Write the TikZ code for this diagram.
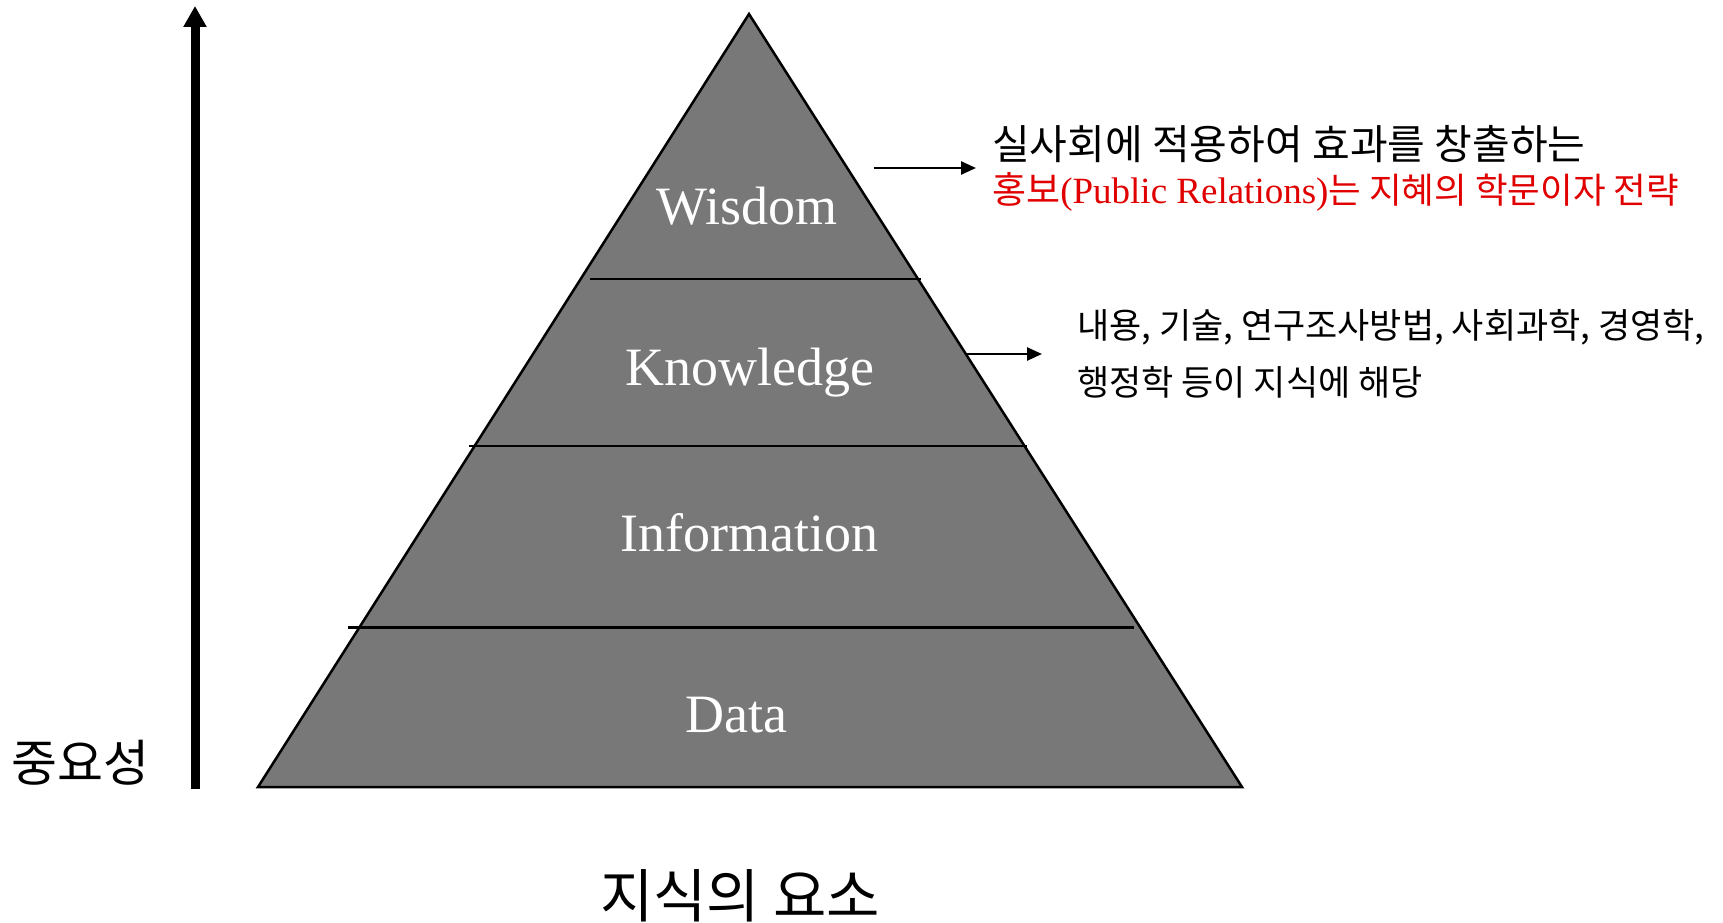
\documentclass[tikz,border=0pt]{standalone}
\usepackage{fontspec}
\setmainfont{Liberation Serif}
\newfontfamily\kr{Noto Sans CJK KR}
\usetikzlibrary{arrows.meta}
\definecolor{pyrgray}{HTML}{787878}
\definecolor{notered}{HTML}{E00000}
\begin{document}
\begin{tikzpicture}[x=1pt,y=-1pt,
  pyr/.style={fill=pyrgray, draw=black, line width=2.5pt, line join=miter},
  divider/.style={draw=black, line width=2.5pt},
  lbl/.style={text=white, font=\fontsize{54}{60}\selectfont, inner sep=0pt, anchor=base},
  note/.style={inner sep=0pt, anchor=base west},
  ptr/.style={line width=2.5pt, -{Triangle[length=15pt,width=13pt]}},
  bigptr/.style={line width=9pt, -{Triangle[length=21pt,width=22pt]}},
]
\useasboundingbox (0,0) rectangle (1723,923);
% pyramid
\coordinate (apex) at (749,14);
\coordinate (bl) at (258,787);
\coordinate (br) at (1242,787);
\path[pyr] (apex) -- (br) -- (bl) -- cycle;
% dividers
\coordinate (d1l) at (590,279);  \coordinate (d1r) at (921,279);
\coordinate (d2l) at (469,446);  \coordinate (d2r) at (1027,446);
\coordinate (d3l) at (348,627.5); \coordinate (d3r) at (1134,627.5);
\draw[divider] (d1l) -- (d1r);
\draw[divider] (d2l) -- (d2r);
\draw[divider] (d3l) -- (d3r);
% layer labels
\node[lbl] (wisdom) at (747,224) {Wisdom};
\node[lbl] (knowledge) at (749.5,385) {Knowledge};
\node[lbl] (information) at (749.5,551.5) {Information};
\node[lbl] (data) at (736,732) {Data};
% importance arrow
\coordinate (imp0) at (195,789);
\coordinate (imp1) at (195,6);
\draw[bigptr] (imp0) -- (imp1);
\node[note, font=\kr\fontsize{50}{56}\selectfont] (importance) at (11,781) {중요성};
% wisdom note
\node[note, font=\kr\fontsize{41}{46}\selectfont] (wnote1) at (992,159) {실사회에 적용하여 효과를 창출하는};
\node[note, text=notered, font=\fontsize{37}{42}\selectfont] (wnote2) at (992,203) {{\kr 홍보}(Public Relations){\kr\fontsize{35.5}{42}\selectfont 는 지혜의 학문이자 전략}};
\coordinate (wa) at (873.6,168);
\coordinate (wt) at (976,168);
\draw[ptr] (wa) -- (wt);
% knowledge note
\node[note, font=\kr\fontsize{35}{40}\selectfont] (knote1) at (1077,338) {내용, 기술, 연구조사방법, 사회과학, 경영학,};
\node[note, font=\kr\fontsize{35}{40}\selectfont] (knote2) at (1077,395.6) {행정학 등이 지식에 해당};
\coordinate (ka) at (965.8,354);
\coordinate (kt) at (1042,354);
\draw[ptr] (ka) -- (kt);
% title
\node[anchor=base, inner sep=0pt, font=\kr\fontsize{58}{62}\selectfont] (title) at (740,917) {지식의 요소};
\end{tikzpicture}
\end{document}
